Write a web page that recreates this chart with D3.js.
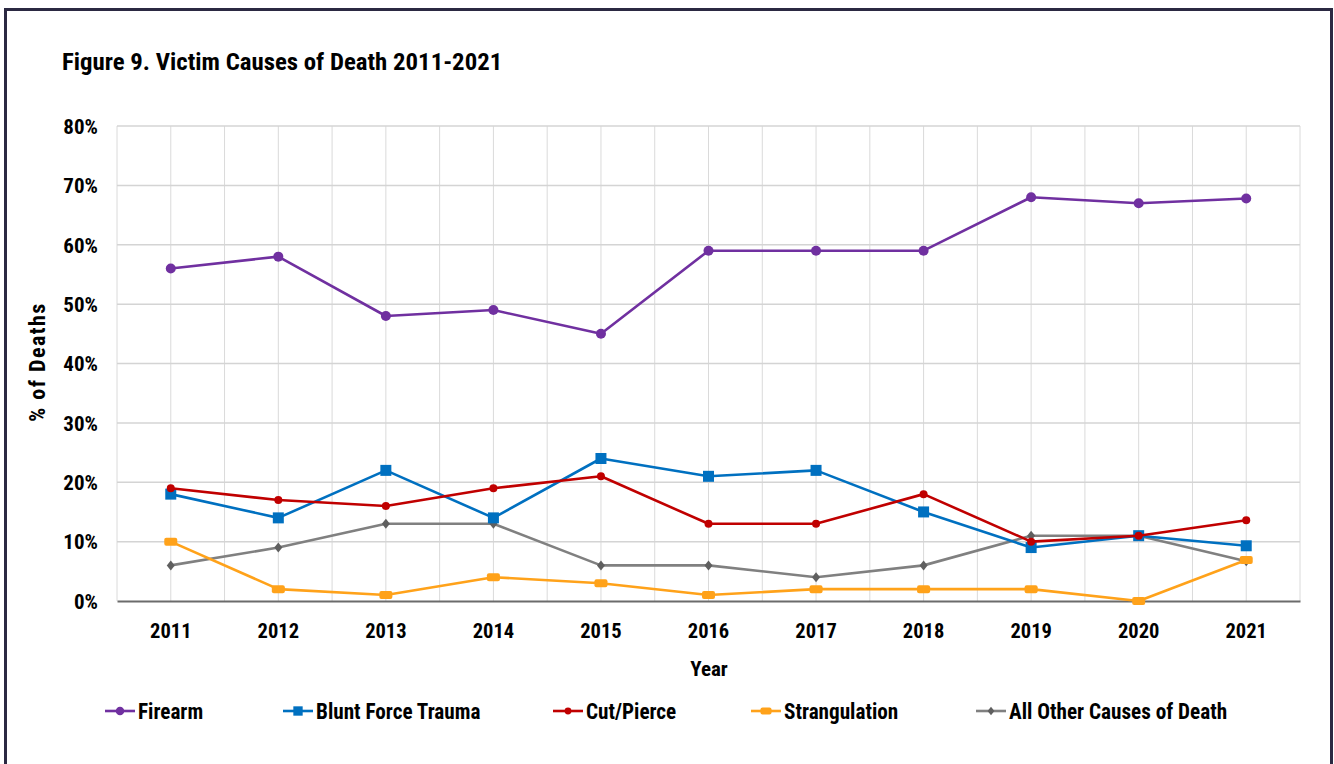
<!DOCTYPE html>
<html><head><meta charset="utf-8">
<script src="https://cdn.jsdelivr.net/npm/d3@7"></script>
<style>
html,body{margin:0;padding:0;background:#fff;}
svg{display:block;}
text{font-family:"Liberation Sans Narrow","Roboto Condensed","Arial Narrow",sans-serif;font-weight:bold;fill:#000;}
</style></head>
<body>
<svg id="chart" width="1334" height="764"></svg>
<script>
const years = ["2011","2012","2013","2014","2015","2016","2017","2018","2019","2020","2021"];
const firearm = [56, 58, 48, 49, 45, 59, 59, 59, 68, 67, 67.8];
const bluntForce = [18, 14, 22, 14, 24, 21, 22, 15, 9, 11, 9.3];
const cutPierce = [19, 17, 16, 19, 21, 13, 13, 18, 10, 11, 13.6];
const strangulation = [10, 2, 1, 4, 3, 1, 2, 2, 2, 0, 6.9];
const otherCauses = [6, 9, 13, 13, 6, 6, 4, 6, 11, 11, 6.7];
const yTicks = [0, 10, 20, 30, 40, 50, 60, 70, 80];
const seriesNames = ["Firearm","Blunt Force Trauma","Cut/Pierce","Strangulation","All Other Causes of Death"];

const series = [
  {name: seriesNames[0], values: firearm, color: "#7030A0", mcolor: "#7030A0", marker: "circle", r: 5},
  {name: seriesNames[1], values: bluntForce, color: "#0070C0", mcolor: "#0070C0", marker: "square", r: 5.5},
  {name: seriesNames[2], values: cutPierce, color: "#C00000", mcolor: "#C00000", marker: "circle", r: 4},
  {name: seriesNames[3], values: strangulation, color: "#FFA21A", mcolor: "#FFA21A", marker: "rect", r: 5},
  {name: seriesNames[4], values: otherCauses, color: "#808080", mcolor: "#5f5f5f", marker: "diamond", r: 5}
];

const svg = d3.select("#chart");
// frame
svg.append("rect").attr("x", 5.5).attr("y", 9.5).attr("width", 1326).attr("height", 770)
  .attr("fill", "#fff").attr("stroke", "#2b2942").attr("stroke-width", 3);

const L = 117, R = 1300, T = 126, B = 601;
const x = d3.scaleBand().domain(years).range([L, R]);
const cx = d => x(d) + x.bandwidth() / 2;
const y = d3.scaleLinear().domain([0, 80]).range([B, T]);

// vertical gridlines (centers and band boundaries)
const g = svg.append("g");
const vlines = [];
years.forEach(d => { vlines.push(x(d)); vlines.push(cx(d)); });
vlines.push(R);
g.selectAll("line.v").data(vlines).join("line")
  .attr("x1", d => d).attr("x2", d => d).attr("y1", T).attr("y2", B)
  .attr("stroke", "#dadada").attr("stroke-width", 1);
// horizontal gridlines
g.selectAll("line.h").data(yTicks.filter(d => d > 0)).join("line")
  .attr("x1", L).attr("x2", R).attr("y1", d => y(d)).attr("y2", d => y(d))
  .attr("stroke", "#d4d4d4").attr("stroke-width", 1.5);

// y axis labels
const yAxis = d3.axisLeft(y).tickValues(yTicks).tickFormat(d => d + "%").tickSize(0).tickPadding(19);
const ya = svg.append("g").attr("transform", `translate(${L},0)`).call(yAxis);
ya.select(".domain").remove();
ya.selectAll("text").style("font-size", "21px").attr("dy", "0.35em");

// x axis
const xAxis = d3.axisBottom(x).tickSize(0).tickPadding(22);
const xa = svg.append("g").attr("transform", `translate(0,${B})`).call(xAxis);
xa.select(".domain").attr("stroke", "#6b6b6b").attr("stroke-width", 2);
xa.selectAll("text").style("font-size", "20.5px");

// title
svg.append("text").attr("x", 62).attr("y", 70).style("font-size", "24.8px")
  .text("Figure 9. Victim Causes of Death 2011-2021");
// axis titles
svg.append("text").attr("x", 709).attr("y", 676).attr("text-anchor", "middle").style("font-size", "21px").text("Year");
svg.append("text").attr("transform", "translate(45,362) rotate(-90)").attr("text-anchor", "middle")
  .style("font-size", "22px").style("letter-spacing", "1.5px").text("% of Deaths");

function drawMarker(sel, s, px, py, scale) {
  const r = s.r * (scale || 1);
  if (s.marker === "circle") {
    sel.append("circle").attr("cx", px).attr("cy", py).attr("r", r).attr("fill", s.mcolor);
  } else if (s.marker === "square") {
    sel.append("rect").attr("x", px - r).attr("y", py - r).attr("width", 2 * r).attr("height", 2 * r).attr("fill", s.mcolor);
  } else if (s.marker === "rect") {
    sel.append("rect").attr("x", px - r * 1.3).attr("y", py - r * 0.8).attr("width", 2.6 * r).attr("height", 1.6 * r)
      .attr("rx", 2).attr("fill", s.mcolor);
  } else if (s.marker === "diamond") {
    sel.append("path").attr("d", `M${px},${py - r}L${px + r * 0.8},${py}L${px},${py + r}L${px - r * 0.8},${py}Z`).attr("fill", s.mcolor);
  }
}

const line = d3.line().x((d, i) => cx(years[i])).y(d => y(d));
const plotOrder = [4, 3, 1, 2, 0];
plotOrder.forEach(k => {
  const s = series[k];
  const sg = svg.append("g");
  sg.append("path").datum(s.values).attr("d", line).attr("fill", "none")
    .attr("stroke", s.color).attr("stroke-width", 2.6).attr("stroke-linejoin", "round");
  s.values.forEach((v, i) => drawMarker(sg, s, cx(years[i]), y(v)));
});

// legend
const legendX = [105, 283, 553, 751, 976];
series.forEach((s, i) => {
  const lg = svg.append("g");
  const lx = legendX[i], ly = 711;
  lg.append("line").attr("x1", lx).attr("x2", lx + 30).attr("y1", ly).attr("y2", ly)
    .attr("stroke", s.color).attr("stroke-width", 2.6);
  drawMarker(lg, s, lx + 15, ly, 0.85);
  lg.append("text").attr("x", lx + 33).attr("y", ly).attr("dy", "0.36em").style("font-size", "21.2px").text(s.name);
});
</script>
</body></html>
